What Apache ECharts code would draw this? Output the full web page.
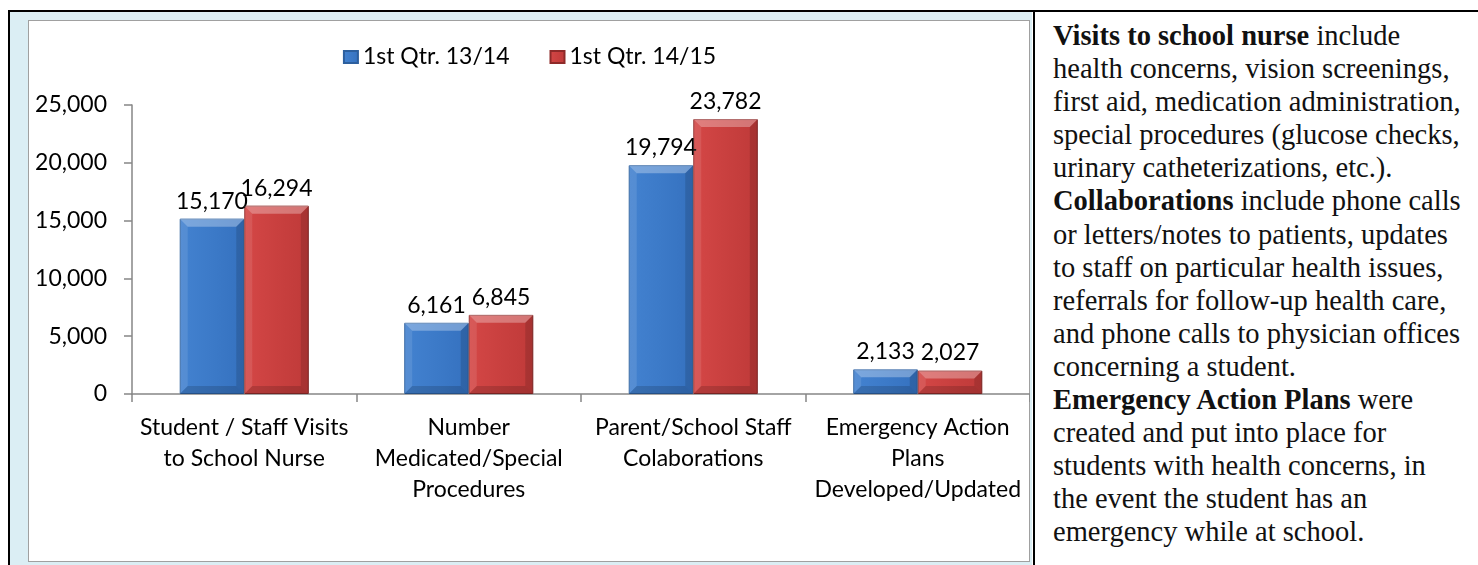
<!DOCTYPE html>
<html>
<head>
<meta charset="utf-8">
<script src="https://cdn.jsdelivr.net/npm/echarts@6/dist/echarts.min.js"></script>
<style>
  html, body { margin: 0; padding: 0; background: #ffffff; }
  body { width: 1478px; height: 565px; position: relative; overflow: hidden; }
  .abs { position: absolute; }
  #bg { left: 10px; top: 12px; width: 1022px; height: 553px; background: #dbeef4; }
  #panel { left: 28px; top: 20px; width: 1000px; height: 540px; background: #ffffff; border: 1px solid #a0a0a0; }
  #chart { left: 29px; top: 21px; width: 1001px; height: 541px; }
  #lineTop { left: 8px; top: 10px; width: 1470px; height: 2px; background: #000; }
  #lineLeft { left: 8px; top: 10px; width: 2px; height: 555px; background: #000; }
  #lineMid { left: 1033px; top: 10px; width: 2px; height: 555px; background: #000; }
  #note {
    left: 1053px; top: 19px; width: 425px;
    font-family: "Liberation Serif", "Times New Roman", serif;
    font-size: 28.5px; line-height: 33.1px; color: #111; white-space: pre;
  }
  #note b { font-weight: bold; }
</style>
</head>
<body>
<div id="bg" class="abs"></div>
<div id="panel" class="abs"></div>
<div id="lineTop" class="abs"></div>
<div id="lineLeft" class="abs"></div>
<div id="lineMid" class="abs"></div>
<div id="chart" class="abs"></div>
<div id="note" class="abs"><b>Visits to school nurse</b> include
health concerns, vision screenings,
first aid, medication administration,
special procedures (glucose checks,
urinary catheterizations, etc.).
<b>Collaborations</b> include phone calls
or letters/notes to patients, updates
to staff on particular health issues,
referrals for follow-up health care,
and phone calls to physician offices
concerning a student.
<b>Emergency Action Plans</b> were
created and put into place for
students with health concerns, in
the event the student has an
emergency while at school.</div>
<script>
// ---- data ----
const categories = [
  "Student / Staff Visits\nto School Nurse",
  "Number\nMedicated/Special\nProcedures",
  "Parent/School Staff\nColaborations",
  "Emergency Action\nPlans\nDeveloped/Updated"
];
const seriesNames = ["1st Qtr. 13/14", "1st Qtr. 14/15"];
const qtr1314 = [15170, 6161, 19794, 2133];
const qtr1415 = [16294, 6845, 23782, 2027];
const yTicks = [0, 5000, 10000, 15000, 20000, 25000];

const FONT = "Lato";
const CAT_GAP = 0.425;
const fmt = v => v.toLocaleString("en-US");

function grad(stops) {
  return new echarts.graphic.LinearGradient(0, 0, 1, 0, stops.map(c => ({offset: c[0], color: c[1]})));
}
const blueFill = grad([[0, "#4382d0"], [0.5, "#3c7ac8"], [1, "#3571bf"]]);
const redFill = grad([[0, "#d44746"], [0.5, "#c9403f"], [1, "#bf3a39"]]);

// bevel overlay drawn from the same scales as the bars
function bevel(side) {
  return function (params, api) {
    const cat = api.value(0), val = api.value(1);
    const top = api.coord([cat, val]);
    const base = api.coord([cat, 0]);
    const band = api.size([1, 0])[0];
    const bw = band * (1 - CAT_GAP) / 2;
    const x0 = side === 0 ? top[0] - bw : top[0];
    const x1 = x0 + bw;
    const y0 = top[1], y1 = base[1];
    const b = Math.min(8, (y1 - y0) / 2);
    const poly = (pts, fill) => ({ type: "polygon", shape: { points: pts }, style: { fill: fill }, silent: true });
    return {
      type: "group",
      children: [
        poly([[x0, y0], [x1, y0], [x1 - b, y0 + b], [x0 + b, y0 + b]], "rgba(255,255,255,0.30)"),
        poly([[x0, y0], [x0 + b, y0 + b], [x0 + b, y1 - b], [x0, y1]], "rgba(255,255,255,0.10)"),
        poly([[x1, y0], [x1, y1], [x1 - b, y1 - b], [x1 - b, y0 + b]], "rgba(0,0,0,0.13)"),
        poly([[x0, y1], [x0 + b, y1 - b], [x1 - b, y1 - b], [x1, y1]], "rgba(0,0,0,0.15)")
      ]
    };
  };
}

const chart = echarts.init(document.getElementById("chart"), null, {renderer: "canvas"});
const labelCfg = {
  show: true, position: "top", distance: 6,
  fontFamily: FONT, fontSize: 23, color: "#000",
  formatter: p => fmt(p.value)
};
chart.setOption({
  animation: false,
  textStyle: { fontFamily: FONT },
  legend: {
    top: 23, left: "center", padding: 0,
    itemWidth: 14, itemHeight: 12, itemGap: 40,
    icon: "rect",
    textStyle: { fontFamily: FONT, fontSize: 23, color: "#000", lineHeight: 26 },
    data: seriesNames
  },
  grid: { left: 103, right: 0, top: 84, bottom: 168, containLabel: false },
  xAxis: {
    type: "category",
    data: categories,
    axisLine: { lineStyle: { color: "#868686", width: 1.5 } },
    axisTick: { show: true, length: 8, lineStyle: { color: "#868686", width: 1.5 } },
    axisLabel: { interval: 0, margin: 18, fontFamily: FONT, fontSize: 23, color: "#000", lineHeight: 31, align: "center" }
  },
  yAxis: {
    type: "value",
    min: yTicks[0], max: yTicks[yTicks.length - 1], interval: yTicks[1] - yTicks[0],
    axisLine: { show: true, lineStyle: { color: "#868686", width: 1.5 } },
    axisTick: { show: true, length: 8, lineStyle: { color: "#868686", width: 1.5 } },
    splitLine: { show: false },
    axisLabel: { margin: 25, fontFamily: FONT, fontSize: 23, color: "#000", formatter: v => fmt(v) }
  },
  series: [
    {
      name: seriesNames[0], type: "bar", data: qtr1314,
      barGap: "0%", barCategoryGap: (CAT_GAP * 100) + "%",
      itemStyle: { color: blueFill, borderColor: "#2c5f9e", borderWidth: 1 },
      label: labelCfg
    },
    {
      name: seriesNames[1], type: "bar", data: qtr1415,
      barGap: "0%", barCategoryGap: (CAT_GAP * 100) + "%",
      itemStyle: { color: redFill, borderColor: "#8e2a29", borderWidth: 1 },
      label: labelCfg
    },
    {
      type: "custom", name: "bevel1", silent: true, z: 3,
      renderItem: bevel(0),
      data: qtr1314.map((v, i) => [i, v]),
      encode: { x: 0, y: 1 }
    },
    {
      type: "custom", name: "bevel2", silent: true, z: 3,
      renderItem: bevel(1),
      data: qtr1415.map((v, i) => [i, v]),
      encode: { x: 0, y: 1 }
    }
  ]
});
</script>
</body>
</html>
